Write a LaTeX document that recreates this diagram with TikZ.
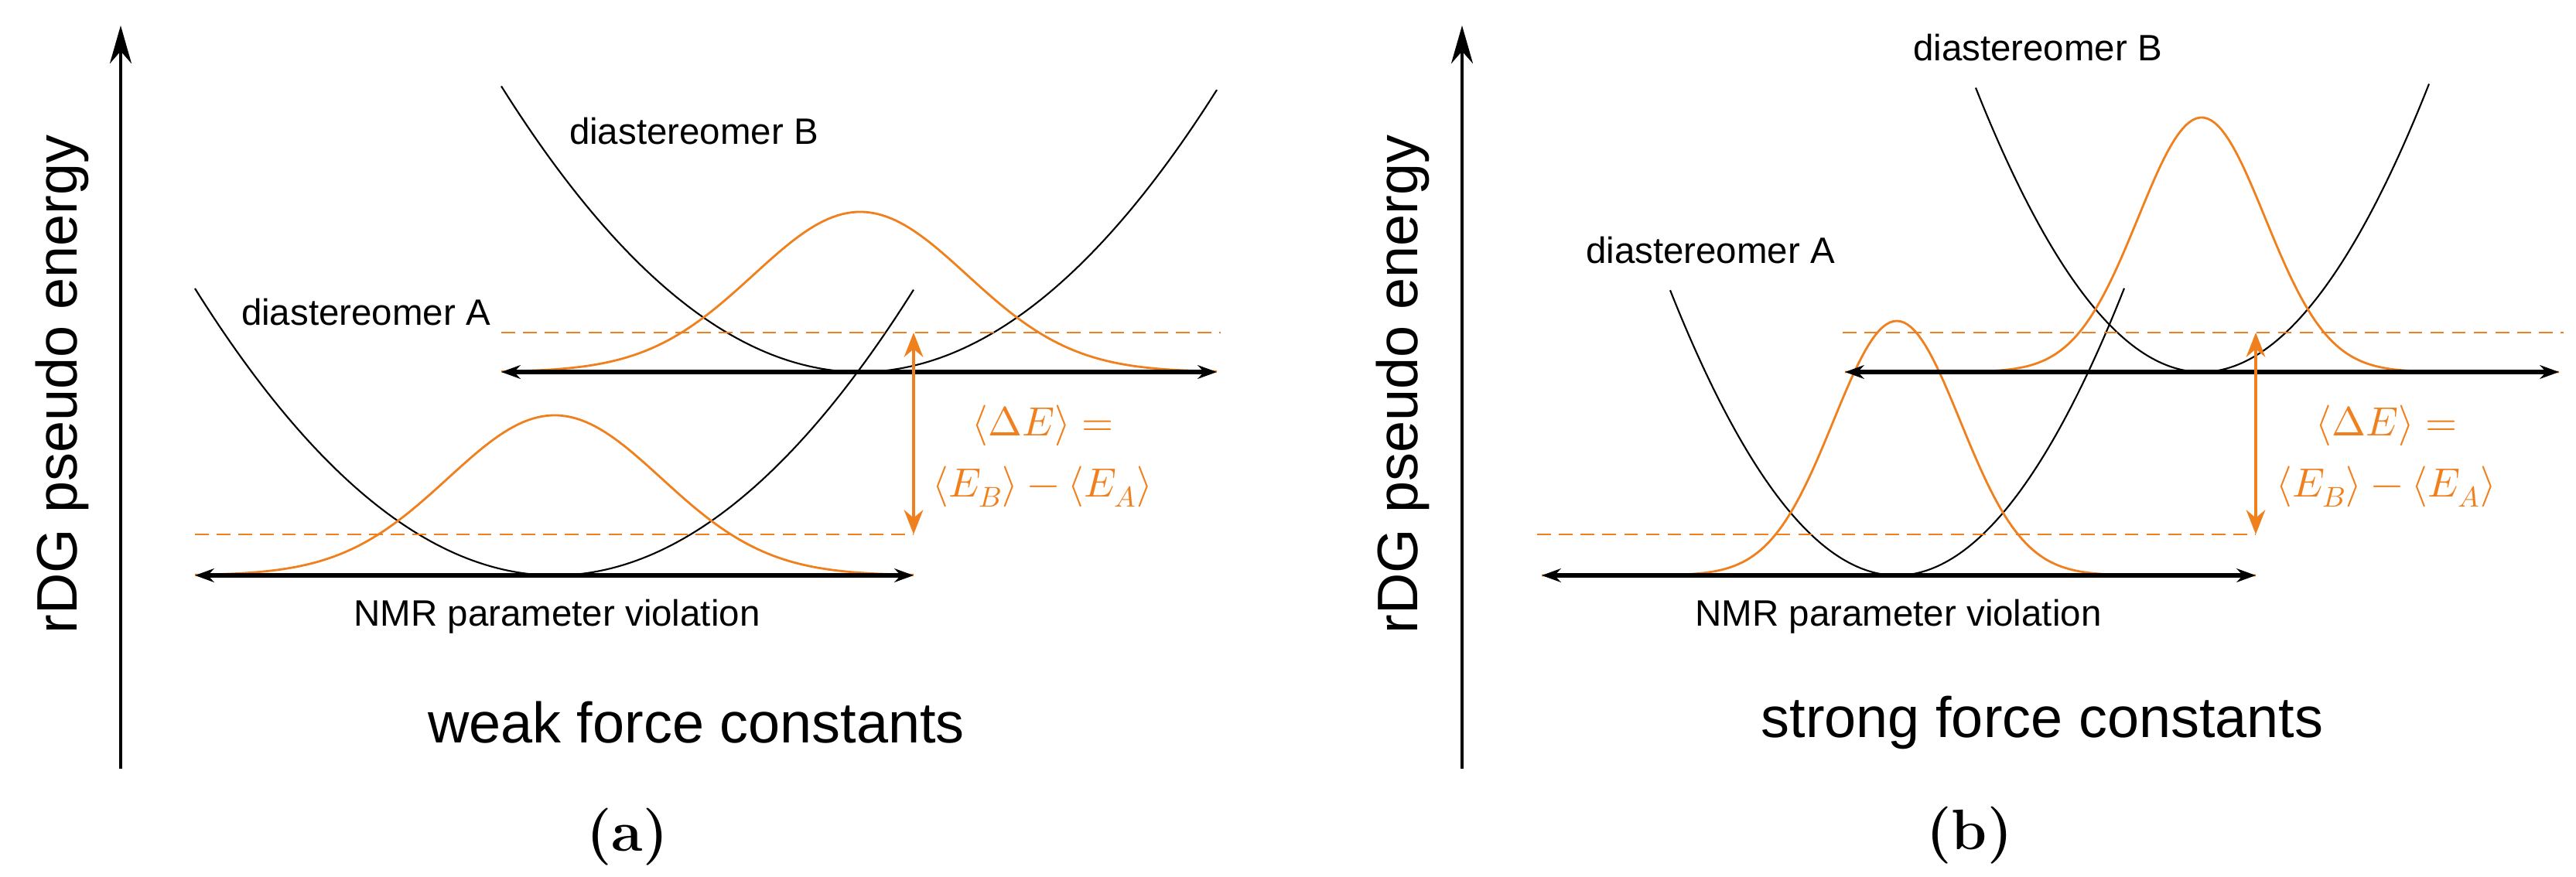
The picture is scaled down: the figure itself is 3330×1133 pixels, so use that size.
\documentclass[tikz,border=0pt]{standalone}
\usepackage{fontspec}
\setmainfont{Liberation Sans}
\newfontfamily\capfont{Latin Modern Roman}
\usepackage{unicode-math}
\usetikzlibrary{arrows.meta}
\definecolor{org}{RGB}{240,128,30}
\begin{document}
\begin{tikzpicture}[x=0.01cm,y=-0.01cm,
  curve/.style={line width=0.6pt,black},
  gauss/.style={line width=0.8pt,org},
  odash/.style={line width=0.8pt,org,dash pattern=on 5pt off 3pt},
  base/.style={line width=1.6pt,{Stealth[length=7pt,width=5pt]}-{Stealth[length=7pt,width=5pt]}},
  axis/.style={line width=0.9pt,-{Stealth[length=14pt,width=8pt]}},
  de/.style={line width=1.1pt,org,{Stealth[length=9pt,width=7pt]}-{Stealth[length=9pt,width=7pt]}},
  lab/.style={font=\fontsize{13.5}{15}\selectfont},
  big/.style={font=\fontsize{21}{24}\selectfont},
  eq/.style={text=org,font=\fontsize{15}{17}\selectfont},
  capt/.style={font=\capfont\bfseries\fontsize{21}{24}\selectfont}]
\useasboundingbox (0,0) rectangle (3330,1133);
% ===== panel a =====
\coordinate (a0) at (156,994); \coordinate (a1) at (156,33);
\draw[axis] (a0) -- (a1);
\node[big,rotate=90] (aly) at (80,497) {rDG pseudo energy};
\draw[curve] plot[domain=252:1181,samples=120] (\x,{744-371*((\x-717)/465)^2});
\draw[curve] plot[domain=648:1573,samples=120] (\x,{481-368*((\x-1112)/463)^2});
\draw[gauss] plot[domain=252:1181,samples=150] (\x,{744-207*exp(-0.5*((\x-717)/138)^2)});
\draw[gauss] plot[domain=648:1573,samples=150] (\x,{481-207*exp(-0.5*((\x-1112)/138)^2)});
\coordinate (aA1) at (252,744); \coordinate (aA2) at (1181,744);
\coordinate (aB1) at (648,481); \coordinate (aB2) at (1573,481);
\draw[base] (aA1) -- (aA2);
\draw[base] (aB1) -- (aB2);
\coordinate (adA1) at (252,691); \coordinate (adA2) at (1181,691);
\coordinate (adB1) at (648,430); \coordinate (adB2) at (1578,430);
\draw[odash] (adA1) -- (adA2);
\draw[odash] (adB1) -- (adB2);
\coordinate (ae1) at (1181,430); \coordinate (ae2) at (1181,691);
\draw[de] (ae1) -- (ae2);
\node[eq] (aeq1) at (1348,550) {$\langle\Delta E\rangle=$};
\node[eq] (aeq2) at (1348,629) {$\langle E_B\rangle-\langle E_A\rangle$};
\node[lab] (adA) at (473,404) {diastereomer A};
\node[lab] (adB) at (897,170) {diastereomer B};
\node[lab] (anmr) at (720,797) {NMR parameter violation};
\node[big] (aw) at (900,934) {weak force constants};
\node[capt] (acap) at (811,1082) {(a)};
% ===== panel b =====
\coordinate (b0) at (1890,994); \coordinate (b1) at (1890,33);
\draw[axis] (b0) -- (b1);
\node[big,rotate=90] (bly) at (1813,497) {rDG pseudo energy};
\draw[curve] plot[domain=2159:2746,samples=120] (\x,{744-370*((\x-2452)/293.5)^2});
\draw[curve] plot[domain=2554:3140,samples=120] (\x,{481-370*((\x-2846)/293)^2});
\draw[gauss] plot[domain=1993:2916,samples=200] (\x,{744-329*exp(-0.5*((\x-2452)/82)^2)});
\draw[gauss] plot[domain=2385:3308,samples=200] (\x,{481-329*exp(-0.5*((\x-2846)/82)^2)});
\coordinate (bA1) at (1993,744); \coordinate (bA2) at (2916,744);
\coordinate (bB1) at (2385,481); \coordinate (bB2) at (3308,481);
\draw[base] (bA1) -- (bA2);
\draw[base] (bB1) -- (bB2);
\coordinate (bdA1) at (1987,691); \coordinate (bdA2) at (2916,691);
\coordinate (bdB1) at (2382,430); \coordinate (bdB2) at (3314,430);
\draw[odash] (bdA1) -- (bdA2);
\draw[odash] (bdB1) -- (bdB2);
\coordinate (be1) at (2916,430); \coordinate (be2) at (2916,691);
\draw[de] (be1) -- (be2);
\node[eq] (beq1) at (3085,550) {$\langle\Delta E\rangle=$};
\node[eq] (beq2) at (3085,629) {$\langle E_B\rangle-\langle E_A\rangle$};
\node[lab] (bdA) at (2211,324) {diastereomer A};
\node[lab] (bdB) at (2634,62) {diastereomer B};
\node[lab] (bnmr) at (2454,797) {NMR parameter violation};
\node[big] (bw) at (2640,934) {strong force constants};
\node[capt] (bcap) at (2546,1080) {(b)};
\end{tikzpicture}
\end{document}
